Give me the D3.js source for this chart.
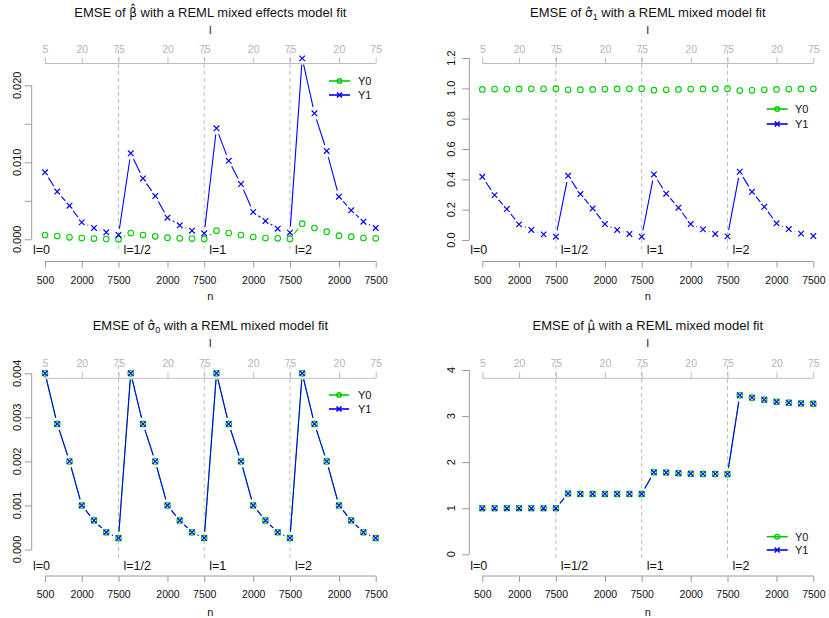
<!DOCTYPE html>
<html><head><meta charset="utf-8">
<script src="https://cdn.jsdelivr.net/npm/d3@7"></script>
<style>body{margin:0;background:#fff} svg{display:block} text{font-family:"Liberation Sans",Arial,Helvetica,sans-serif}</style>
</head><body><svg id="c" width="829" height="618"></svg>
<script>
// ---------- data ----------
const groupLabels = ["l=0", "l=1/2", "l=1", "l=2"];
const groupEnds = [7, 14, 21];
const tickIndex = [1, 4, 7, 11, 14, 18, 21, 25, 28];
const topTickLabels = ["5", "20", "75", "20", "75", "20", "75", "20", "75"];
const bottomTickLabels = ["500", "2000", "7500", "2000", "7500", "2000", "7500", "2000", "7500"];
const seriesNames = ["Y0", "Y1"];

const betaY0 = [0.00056, 0.00043, 0.00026, 0.00017, 0.00010, 0.00004, 0.00002,
  0.00082, 0.00056, 0.00039, 0.00021, 0.00013, 0.00010, 0.00005,
  0.00112, 0.00082, 0.00056, 0.00030, 0.00017, 0.00013, 0.00005,
  0.00203, 0.00147, 0.00099, 0.00047, 0.00034, 0.00017, 0.00013];
const betaY1 = [0.0087, 0.0062, 0.00436, 0.0022, 0.00147, 0.00091, 0.00056,
  0.01117, 0.0079, 0.00562, 0.0028, 0.00182, 0.00112, 0.00078,
  0.01442, 0.0102, 0.00718, 0.00355, 0.00238, 0.00138, 0.00086,
  0.0235, 0.01636, 0.01147, 0.00553, 0.00377, 0.00229, 0.00147];

const sigma1Y0 = [0.993, 0.995, 0.995, 0.996, 0.997, 0.997, 0.998,
  0.990, 0.991, 0.993, 0.995, 0.996, 0.997, 0.998,
  0.988, 0.990, 0.993, 0.995, 0.996, 0.997, 0.998,
  0.985, 0.987, 0.990, 0.993, 0.995, 0.996, 0.997];
const sigma1Y1 = [0.417, 0.296, 0.204, 0.103, 0.066, 0.037, 0.022,
  0.423, 0.303, 0.208, 0.105, 0.066, 0.040, 0.022,
  0.432, 0.305, 0.213, 0.105, 0.070, 0.040, 0.024,
  0.450, 0.318, 0.219, 0.110, 0.072, 0.042, 0.026];

const sigma0Y0 = [0.0040, 0.00285, 0.0020, 0.0010, 0.00066, 0.00039, 0.00026,
  0.0040, 0.00285, 0.0020, 0.0010, 0.00066, 0.00039, 0.00026,
  0.0040, 0.00285, 0.0020, 0.0010, 0.00066, 0.00039, 0.00026,
  0.0040, 0.00285, 0.0020, 0.0010, 0.00066, 0.00039, 0.00026];
const sigma0Y1 = [0.0040, 0.00285, 0.0020, 0.0010, 0.00066, 0.00039, 0.00026,
  0.0040, 0.00285, 0.0020, 0.0010, 0.00066, 0.00039, 0.00026,
  0.0040, 0.00285, 0.0020, 0.0010, 0.00066, 0.00039, 0.00026,
  0.0040, 0.00285, 0.0020, 0.0010, 0.00066, 0.00039, 0.00026];

const muY0 = [1.0, 1.0, 1.0, 1.0, 1.0, 1.0, 1.0,
  1.32, 1.31, 1.31, 1.31, 1.31, 1.31, 1.31,
  1.78, 1.775, 1.76, 1.75, 1.745, 1.745, 1.74,
  3.45, 3.40, 3.355, 3.31, 3.29, 3.275, 3.27];
const muY1 = [1.0, 1.0, 1.0, 1.0, 1.0, 1.0, 1.0,
  1.32, 1.31, 1.31, 1.31, 1.31, 1.31, 1.31,
  1.78, 1.775, 1.76, 1.75, 1.745, 1.745, 1.74,
  3.45, 3.40, 3.355, 3.31, 3.29, 3.275, 3.27];

const betaTicks = [0, 0.005, 0.010, 0.015, 0.020];
const betaTickLabels = ["0.000", "", "0.010", "", "0.020"];
const sigma1Ticks = [0, 0.2, 0.4, 0.6, 0.8, 1.0, 1.2];
const sigma1TickLabels = ["0.0", "0.2", "0.4", "0.6", "0.8", "1.0", "1.2"];
const sigma0Ticks = [0, 0.001, 0.002, 0.003, 0.004];
const sigma0TickLabels = ["0.000", "0.001", "0.002", "0.003", "0.004"];
const muTicks = [0, 1, 2, 3, 4];
const muTickLabels = ["0", "1", "2", "3", "4"];

// ---------- styling ----------
const GREEN = "#00cd00", BLUE = "#0000ff";
const AXIS = "#9a9a9a", TOPAXIS = "#bdbdbd", DASH = "#bdbdbd";
const GAP = 6.3;

const svg = d3.select("#c");

function drawTitle(g, cx, y, parts) {
  const t = g.append("text").attr("x", cx).attr("y", y).attr("text-anchor", "middle")
    .attr("font-size", 13).attr("fill", "#111");
  parts.forEach(p => {
    const ts = t.append("tspan").text(p.hat ? p.t + "\u0302" : p.t);
    if (p.hat) ts.attr("font-family", "DejaVu Sans").attr("font-size", 12);
    if (p.sub) ts.attr("font-size", 9).attr("dy", 3);
    if (p.after) ts.attr("dy", -3);
  });
}

function drawPanel(p) {
  const g = svg.append("g");
  const x = d3.scaleLinear().domain([1, 28]).range(p.xr);
  const y = d3.scaleLinear().domain(p.yd).range(p.yr);
  const idx = d3.range(1, 29);

  drawTitle(g, (p.xr[0] + p.xr[1]) / 2, p.titleY, p.title);

  // dashed group separators
  g.selectAll(".sep").data(groupEnds).join("line")
    .attr("x1", d => x(d)).attr("x2", d => x(d)).attr("y1", p.dashY[0]).attr("y2", p.dashY[1])
    .attr("stroke", DASH).attr("stroke-dasharray", "4,3").attr("stroke-width", 1);

  // top axis (l)
  const top = g.append("g").attr("transform", `translate(0,${p.topAxisY})`)
    .call(d3.axisTop(x).tickValues(tickIndex).tickSize(6).tickPadding(5)
      .tickFormat((d, i) => topTickLabels[i]));
  top.select(".domain").attr("stroke", TOPAXIS).attr("d", `M${p.xr[0]},0H${p.xr[1]}`);
  top.selectAll(".tick line").attr("stroke", TOPAXIS);
  top.selectAll(".tick text").attr("fill", "#b4b4b4").attr("font-size", 10.5)
    .attr("font-family", "Liberation Sans, Arial, sans-serif");
  g.append("text").attr("x", (p.xr[0] + p.xr[1]) / 2).attr("y", p.lLabelY).attr("text-anchor", "middle")
    .attr("dominant-baseline", "central").attr("font-size", 11).attr("fill", "#111").text("l");

  // bottom axis (n)
  const bot = g.append("g").attr("transform", `translate(0,${p.botAxisY})`)
    .call(d3.axisBottom(x).tickValues(tickIndex).tickSize(6).tickPadding(9)
      .tickFormat((d, i) => bottomTickLabels[i]));
  bot.select(".domain").attr("stroke", AXIS).attr("d", `M${p.xr[0]},0H${p.xr[1]}`);
  bot.selectAll(".tick line").attr("stroke", AXIS);
  bot.selectAll(".tick text").attr("fill", "#111").attr("font-size", 10.5)
    .attr("font-family", "Liberation Sans, Arial, sans-serif");
  g.append("text").attr("x", (p.xr[0] + p.xr[1]) / 2).attr("y", p.nLabelY).attr("text-anchor", "middle")
    .attr("dominant-baseline", "central").attr("font-size", 11).attr("fill", "#111").text("n");

  // group labels
  const gx = [x(1) - 12, x(groupEnds[0]) + 5, x(groupEnds[1]) + 5, x(groupEnds[2]) + 5];
  g.selectAll(".glab").data(groupLabels).join("text")
    .attr("x", (d, i) => gx[i]).attr("y", p.groupLabelY).attr("dominant-baseline", "central")
    .attr("font-size", 12.5).attr("fill", "#111").text(d => d);

  // y axis
  const ya = g.append("g").attr("transform", `translate(${p.yAxisX},0)`)
    .call(d3.axisLeft(y).tickValues(p.yTicks).tickSize(7).tickFormat(""));
  ya.select(".domain").attr("stroke", AXIS).attr("d", `M0,${y(p.yTicks[0])}V${y(p.yTicks[p.yTicks.length - 1])}`);
  ya.selectAll(".tick line").attr("stroke", AXIS);
  g.selectAll(".ylab").data(p.yTicks).join("text")
    .attr("transform", d => `translate(${p.yAxisX - p.yLabOff},${y(d)}) rotate(-90)`)
    .attr("text-anchor", "middle").attr("dominant-baseline", "central")
    .attr("font-size", 11).attr("fill", "#111").text((d, i) => p.yTickLabels[i]);

  // series
  const series = [{ v: p.s0, c: GREEN, m: "o" }, { v: p.s1, c: BLUE, m: "x" }];
  series.forEach(s => {
    const pts = idx.map((d, i) => [x(d), y(s.v[i])]);
    const segs = [];
    for (let i = 0; i < pts.length - 1; i++) {
      const [x1, y1] = pts[i], [x2, y2] = pts[i + 1];
      const L = Math.hypot(x2 - x1, y2 - y1);
      if (L > 2 * GAP) {
        const ux = (x2 - x1) / L, uy = (y2 - y1) / L;
        segs.push([x1 + ux * GAP, y1 + uy * GAP, x2 - ux * GAP, y2 - uy * GAP]);
      }
    }
    g.append("g").selectAll("line").data(segs).join("line")
      .attr("x1", d => d[0]).attr("y1", d => d[1]).attr("x2", d => d[2]).attr("y2", d => d[3])
      .attr("stroke", s.c).attr("stroke-width", 1.1);
  });
  series.forEach(s => {
    const mg = g.append("g");
    idx.forEach((d, i) => {
      const cx = x(d), cy = y(s.v[i]);
      if (s.m === "o") {
        mg.append("circle").attr("cx", cx).attr("cy", cy).attr("r", 2.8)
          .attr("fill", "none").attr("stroke", s.c).attr("stroke-width", 1.1);
      } else {
        const r = 2.8;
        mg.append("path").attr("d", `M${cx - r},${cy - r}L${cx + r},${cy + r}M${cx - r},${cy + r}L${cx + r},${cy - r}`)
          .attr("stroke", s.c).attr("stroke-width", 1.2).attr("fill", "none");
      }
    });
  });

  // legend
  const L = p.legend;
  [0, 1].forEach(k => {
    const yy = k === 0 ? L.y0 : L.y1;
    const c = k === 0 ? GREEN : BLUE;
    g.append("line").attr("x1", L.x1).attr("x2", L.x2).attr("y1", yy).attr("y2", yy)
      .attr("stroke", c).attr("stroke-width", 1.6);
    const mx = (L.x1 + L.x2) / 2;
    if (k === 0) g.append("circle").attr("cx", mx).attr("cy", yy).attr("r", 2.3)
      .attr("fill", "none").attr("stroke", c).attr("stroke-width", 1.4);
    else g.append("path").attr("d", `M${mx - 2.5},${yy - 2.5}L${mx + 2.5},${yy + 2.5}M${mx - 2.5},${yy + 2.5}L${mx + 2.5},${yy - 2.5}`)
      .attr("stroke", c).attr("stroke-width", 1.6);
    g.append("text").attr("x", L.tx).attr("y", yy).attr("dominant-baseline", "central")
      .attr("font-size", 11).attr("fill", "#111").text(seriesNames[k]);
  });
}

const topRow = { titleY: 16.5, lLabelY: 29.5, topAxisY: 63.5, dashY: [50, 249], botAxisY: 261.5, nLabelY: 296, groupLabelY: 250 };
const botRow = { titleY: 329.5, lLabelY: 343.3, topAxisY: 378.3, dashY: [365, 561], botAxisY: 576, nLabelY: 611.5, groupLabelY: 566 };
const leftCol = { xr: [45, 375.7], yAxisX: 31.7, yLabOff: 15 };
const rightCol = { xr: [482.3, 813.3], yAxisX: 469.3, yLabOff: 18 };

drawPanel(Object.assign({}, topRow, leftCol, {
  title: [{ t: "EMSE of " }, { t: "β", hat: true }, { t: " with a REML mixed effects model fit" }],
  yd: [0, 0.020], yr: [239.3, 85.3], yTicks: betaTicks, yTickLabels: betaTickLabels,
  s0: betaY0, s1: betaY1, legend: { x1: 329, x2: 350, y0: 81, y1: 95, tx: 358 }
}));
drawPanel(Object.assign({}, topRow, rightCol, {
  title: [{ t: "EMSE of " }, { t: "σ", hat: true }, { t: "1", sub: true }, { t: " with a REML mixed model fit", after: true }],
  yd: [0, 1.2], yr: [240, 58], yTicks: sigma1Ticks, yTickLabels: sigma1TickLabels,
  s0: sigma1Y0, s1: sigma1Y1, legend: { x1: 766.7, x2: 787.7, y0: 109, y1: 124, tx: 795 }
}));
drawPanel(Object.assign({}, botRow, leftCol, {
  title: [{ t: "EMSE of " }, { t: "σ", hat: true }, { t: "0", sub: true }, { t: " with a REML mixed model fit", after: true }],
  yd: [0, 0.004], yr: [549.5, 373.3], yTicks: sigma0Ticks, yTickLabels: sigma0TickLabels,
  s0: sigma0Y0, s1: sigma0Y1, legend: { x1: 329, x2: 349, y0: 395, y1: 409, tx: 358 }
}));
drawPanel(Object.assign({}, botRow, rightCol, {
  title: [{ t: "EMSE of " }, { t: "μ", hat: true }, { t: " with a REML mixed model fit" }],
  yd: [0, 4], yr: [554.3, 370], yTicks: muTicks, yTickLabels: muTickLabels,
  s0: muY0, s1: muY1, legend: { x1: 766.7, x2: 787.7, y0: 536.7, y1: 550, tx: 795 }
}));
</script></body></html>
